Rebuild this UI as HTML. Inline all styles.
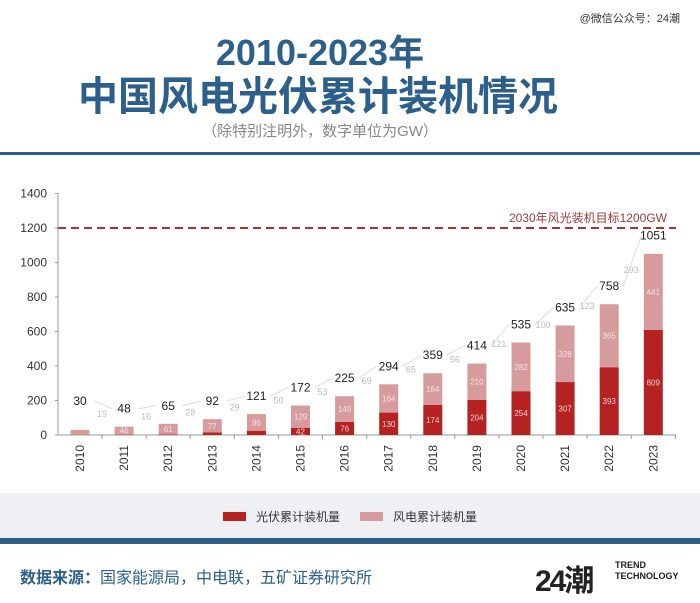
<!DOCTYPE html>
<html><head><meta charset="utf-8">
<style>
body{margin:0;background:#fff;}
#wrap{position:relative;width:700px;height:603px;overflow:hidden;background:#fff;font-family:"Liberation Sans","Noto Sans CJK SC",sans-serif;}
.t{position:absolute;left:0;width:640px;text-align:center;color:#2c5f8a;font-weight:bold;font-family:"Liberation Sans","Noto Sans CJK SC",sans-serif;}
</style></head><body>
<div id="wrap">
<div style="position:absolute;right:20px;top:10px;font-size:11px;color:#333;">@微信公众号：24潮</div>
<div class="t" style="top:24px;font-size:36px;">2010-2023年</div>
<div class="t" style="top:64px;left:-2px;font-size:40px;">中国风电光伏累计装机情况</div>
<div style="position:absolute;left:0;width:640px;top:120px;text-align:center;font-size:15px;color:#888;">（除特别注明外，数字单位为GW）</div>
<div style="position:absolute;left:0;top:152px;width:700px;height:3px;background:#2c5f8a;"></div>
<svg id="chart" width="700" height="490" style="position:absolute;left:0;top:0;"></svg>
<div style="position:absolute;left:0;top:493px;width:700px;height:45px;background:#eef0f3;"></div>
<div style="position:absolute;left:223px;top:508px;font-size:12px;color:#333;display:flex;align-items:center;"><span style="display:inline-block;width:23px;height:9px;background:#b52222;margin-right:10px;"></span>光伏累计装机量</div>
<div style="position:absolute;left:360px;top:508px;font-size:12px;color:#333;display:flex;align-items:center;"><span style="display:inline-block;width:23px;height:9px;background:#d69b9d;margin-right:10px;"></span>风电累计装机量</div>
<div style="position:absolute;left:0;top:538px;width:700px;height:6px;background:#2c5f8a;"></div>
<div style="position:absolute;left:20px;top:564px;font-size:16px;color:#2c5f8a;"><b>数据来源：</b>国家能源局，中电联，五矿证券研究所</div>
<div style="position:absolute;left:535px;top:556px;font-size:30px;font-weight:bold;color:#222;letter-spacing:-2px;">24潮</div>
<div style="position:absolute;left:615px;top:560px;font-size:9px;font-weight:bold;color:#222;line-height:11px;">TREND<br>TECHNOLOGY</div>
</div>
<script>
const years=["2010","2011","2012","2013","2014","2015","2016","2017","2018","2019","2020","2021","2022","2023"];
const solar=[1,2,4,15,25,42,76,130,174,204,254,307,393,609];
const wind=[29,46,61,77,96,129,149,164,184,210,282,328,365,441];
const totals=[30,48,65,92,121,172,225,294,359,414,535,635,758,1051];
const increments=[19,16,28,29,50,53,69,65,56,121,100,123,293];
const yTicks=[0,200,400,600,800,1000,1200,1400];
const target=1200;
const NS="http://www.w3.org/2000/svg";
const svg=document.getElementById('chart');
const y0=435, pxPer=(435-228)/1200;
function y(v){return y0-v*pxPer;}
function x(i){return 80+i*44.1;}
function el(t,a,txt){const e=document.createElementNS(NS,t);for(const k in a)e.setAttribute(k,a[k]);if(txt!==undefined)e.textContent=txt;svg.appendChild(e);return e;}
const F='"Liberation Sans","Noto Sans CJK SC",sans-serif';
let ax=el('line',{x1:58,y1:193,x2:58,y2:y0,stroke:'#999','stroke-width':1});

let xa=el('line',{x1:58,y1:y0,x2:676,y2:y0,stroke:'#999','stroke-width':1});

yTicks.forEach(v=>{
 let t=el('text',{x:47,y:y(v)+4,'text-anchor':'end','font-size':12,fill:'#333','font-family':F},v);
 
 el('line',{x1:55,y1:y(v),x2:58,y2:y(v),stroke:'#999'});
});
let tl=el('line',{x1:58,y1:y(target),x2:676,y2:y(target),stroke:'#b03030','stroke-width':2,'stroke-dasharray':'8,5'});

let tt=el('text',{x:667,y:y(target)-6,'text-anchor':'end','font-size':12,fill:'#9b3a3a','font-family':F},'2030年风光装机目标1200GW');

function labY(i){return Math.min(y(totals[i])-14,y(70)-10);}
years.forEach((yr,i)=>{
 const cx=x(i),w=19;
 el('line',{x1:cx+22,y1:y0,x2:cx+22,y2:y0+4,stroke:'#999'});
 let s=el('rect',{x:cx-w/2,y:y(solar[i]),width:w,height:solar[i]*pxPer,fill:'#b52222'});
 
 let wd=el('rect',{x:cx-w/2,y:y(solar[i]+wind[i]),width:w,height:wind[i]*pxPer,fill:'#d69b9d'});
 
 if(solar[i]>=40){let l=el('text',{x:cx,y:y(solar[i]/2)+3,'text-anchor':'middle','font-size':8,fill:'#f3d0d0','font-family':F},solar[i]);}
 if(wind[i]>=40){let l=el('text',{x:cx,y:y(solar[i]+wind[i]/2)+3,'text-anchor':'middle','font-size':8,fill:'#f7e3e3','font-family':F},wind[i]);}
 let tv=el('text',{x:cx,y:i==0?y(0)-30:labY(i),'text-anchor':'middle','font-size':12,fill:'#222','font-family':F},totals[i]);
 
 let xl=el('text',{x:cx+4,y:y0+10,'text-anchor':'end','font-size':12,fill:'#333','font-family':F,transform:`rotate(-90 ${cx+4} ${y0+10})`},yr);
 
});
increments.forEach((d,i)=>{
 const a=i==0?y(0)-34:labY(i)-4,b=labY(i+1)-4;
 el('line',{x1:x(i)+14,y1:a,x2:x(i+1)-12,y2:b,stroke:'#ddd','stroke-width':1});
 let l=el('text',{x:(x(i)+x(i+1))/2,y:(a+b)/2+12,'text-anchor':'middle','font-size':9,fill:'#bbb','font-family':F},d);
 
});
</script>
</body></html>
